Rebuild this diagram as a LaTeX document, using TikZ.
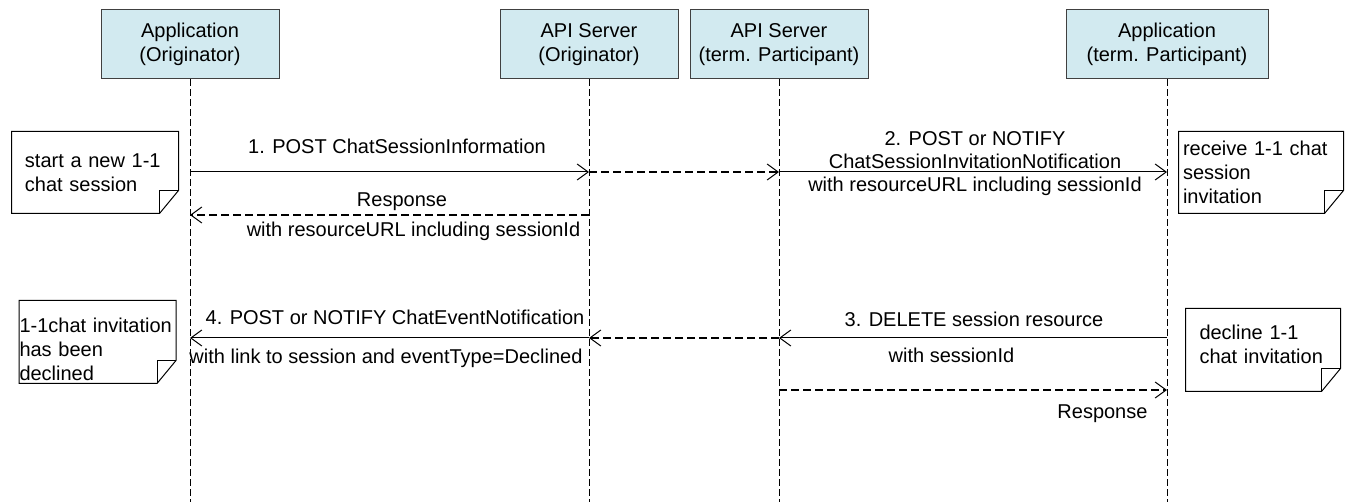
\documentclass[tikz,border=0pt]{standalone}
\usepackage{fontspec}
\setmainfont{Liberation Sans}
\usetikzlibrary{arrows.meta}
\definecolor{boxblue}{RGB}{210,234,240}
\definecolor{boxline}{RGB}{64,64,64}
\newcommand{\drawnote}[2][0pt]{
    % note outline with the folded corner, #1 moves it up against the text
    \draw ([yshift=#1]#2.north west) -- ([yshift=#1]#2.north east) -- ([yshift=#1+11.5pt]#2.south east)
        -- ([xshift=-9.5pt,yshift=#1]#2.south east) -- ([yshift=#1]#2.south west) -- cycle;
    \draw ([xshift=-9.5pt,yshift=#1]#2.south east) -- ([xshift=-9.5pt,yshift=#1+11.5pt]#2.south east)
        -- ([yshift=#1+11.5pt]#2.south east);
}
\tikzset{
    actor/.style={draw=boxline, fill=boxblue, minimum width=89pt, minimum height=34.5pt, align=center, inner sep=0pt},
    lifeline/.style={dash pattern=on 3.25pt off 1.75pt},
    msg/.style={-{Straight Barb[length=5.5pt,width=8pt,line width=0.5pt]}},
    reply/.style={msg, line width=1pt, dash pattern=on 4pt off 2pt},
    note/.style={align=left, minimum height=40.5pt, inner ysep=0pt},
    lbl/.style={anchor=base, inner sep=0pt},
}
\begin{document}
\begin{tikzpicture}[x=0.5pt, y=-0.5pt, line width=0.5pt, font=\fontsize{10}{12}\selectfont]
    \path[fill=white, use as bounding box] (0,0) rectangle (1346,502);

    % participants
    \node[actor] (appO) at (190,44.5) {Application\\(Originator)};
    \node[actor] (srvO) at (589,44.5) {API Server\\(Originator)};
    \node[actor] (srvP) at (779,44.5) {API Server\\(term. Participant)};
    \node[actor, minimum width=101pt] (appP) at (1167,44.5) {Application\\(term. Participant)};

    % lifelines down to the bottom edge
    \coordinate (bottom) at (0,502);
    \foreach \n in {appO,srvO,srvP,appP}
    \draw[lifeline] (\n.south) -- (\n |- bottom);

    % rows of the messages
    \coordinate (m1) at (0,172);
    \coordinate (m2) at (0,215);
    \coordinate (m3) at (0,338);
    \coordinate (m4) at (0,390);

    % 1. and 2.
    \draw[msg] (appO |- m1) -- (srvO |- m1);
    \draw[reply] (srvO |- m1) -- (srvP |- m1);
    \draw[msg] (srvP |- m1) -- (appP |- m1);
    \node[lbl] (post1) at (397,154) {1. POST ChatSessionInformation};
    \node[lbl, align=center, font=\fontsize{10}{11.5}\selectfont] (post2) at (975,192)
        {2. POST or NOTIFY\\ChatSessionInvitationNotification\\with resourceURL including sessionId};

    % response to 1.
    \draw[reply] (srvO |- m2) -- (appO |- m2);
    \node[lbl] (resp1) at (402,207) {Response};
    \node[lbl] (resp1b) at (413.5,237) {with resourceURL including sessionId};

    % 3. and 4.
    \draw[msg] (appP |- m3) -- (srvP |- m3);
    \draw[reply] (srvP |- m3) -- (srvO |- m3);
    \draw[msg] (srvO |- m3) -- (appO |- m3);
    \node[lbl] (del3) at (974,327) {3. DELETE session resource};
    \node[lbl] (del3b) at (951.5,363) {with sessionId};
    \node[lbl] (post4) at (395,325) {4. POST or NOTIFY ChatEventNotification};
    \node[lbl] (post4b) at (386,364) {with link to session and eventType=Declined};

    % response to 3.
    \draw[reply] (srvP |- m4) -- (appP |- m4);
    \node[lbl, anchor=base east] (resp3) at (1148,419) {Response};

    % notes
    \node[note, text width=70pt, inner xsep=6.5pt] (start) at (95,172.5) {start a new 1-1\\chat session};
    \drawnote{start}
    \node[note, text width=78pt, inner xsep=2pt] (receive) at (1261,172.5) {receive 1-1 chat\\session\\invitation};
    \drawnote{receive}
    \node[note, text width=78pt, inner xsep=0pt, minimum height=41pt] (declined) at (97.5,349) {1-1chat invitation\\has been\\declined};
    \drawnote[3.5pt]{declined}
    \node[note, text width=63.5pt, inner xsep=6.75pt, minimum height=41pt] (decline) at (1263,344) {decline 1-1\\chat invitation};
    \drawnote[-3pt]{decline}
\end{tikzpicture}
\end{document}
